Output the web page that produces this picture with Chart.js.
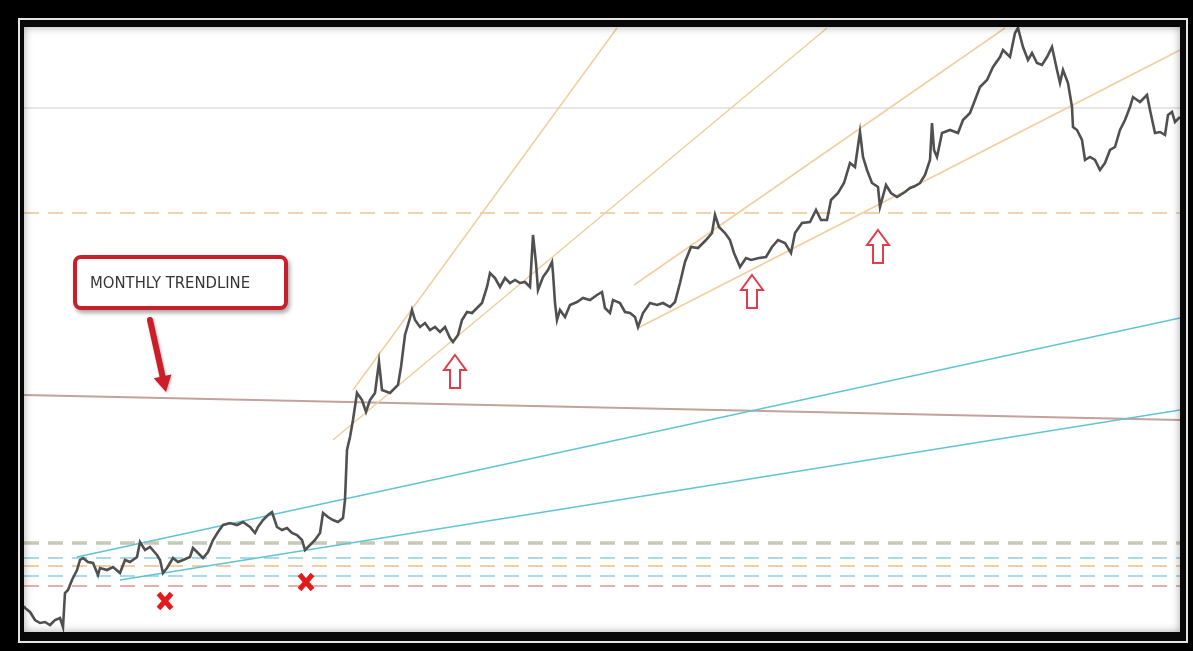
<!DOCTYPE html>
<html>
<head>
<meta charset="utf-8">
<script src="https://cdn.jsdelivr.net/npm/chart.js@4.4.0/dist/chart.umd.min.js"></script>
<style>
    html, body { margin: 0; padding: 0; background: #000; width: 1193px; height: 651px; overflow: hidden; }
    #frame { position: absolute; left: 18px; top: 18px; width: 1170px; height: 625px; box-sizing: border-box; border: 2px solid #e4e4e4; background: #080808; }
    #plot { position: absolute; left: 24px; top: 27px; width: 1156px; height: 605px; background: #fff; }
    #plot canvas { position: absolute; left: 0; top: 0; }
    #shade { position: absolute; left: 0; top: 0; right: 0; bottom: 0; box-shadow: inset 0 0 9px rgba(0, 0, 0, 0.35); pointer-events: none; }
    #callout {
        position: absolute; left: 73px; top: 255px; width: 215px; height: 55px; box-sizing: border-box;
        border: 4px solid #c81f2a; border-radius: 8px; background: #fff;
        box-shadow: 2px 3px 4px rgba(0, 0, 0, 0.35);
        font-family: "Liberation Sans Narrow", "DejaVu Sans Condensed", "Liberation Sans", sans-serif;
        font-size: 16.5px; color: #363636; line-height: 47px; padding-left: 13px; white-space: nowrap;
    }
</style>
</head>
<body>
<div id="frame"></div>
<div id="plot">
    <canvas id="priceChart" width="1156" height="605"></canvas>
    <div id="shade"></div>
</div>
<div id="callout">MONTHLY TRENDLINE</div>

<script>
// price path (bar index, price level)
const bars = [
    0, 1, 6, 11, 16, 21, 26, 31, 36, 39,
    41, 44, 48, 53, 56, 59, 64, 69, 74, 76,
    83, 89, 96, 101, 106, 113, 116, 121, 126, 133,
    136, 139, 143, 146, 149, 154, 159, 166, 169, 174,
    179, 184, 189, 194, 199, 206, 213, 219, 226, 231,
    234, 239, 244, 248, 253, 258, 263, 268, 273, 278,
    281, 286, 291, 296, 299, 304, 309, 314, 319, 321,
    323, 326, 329, 333, 338, 342, 346, 351, 355, 358,
    366, 374, 377, 381, 386, 388, 391, 396, 401, 406,
    411, 416, 421, 426, 429, 434, 438, 443, 448, 453,
    458, 463, 466, 471, 476, 481, 486, 491, 496, 501,
    506, 509, 512, 514, 519, 524, 528, 529, 531, 533,
    536, 541, 546, 553, 559, 566, 573, 578, 581, 586,
    589, 596, 601, 606, 611, 614, 619, 626, 633, 639,
    646, 651, 656, 661, 667, 674, 682, 688, 691, 695,
    701, 706, 710, 716, 722, 727, 735, 742, 748, 754,
    761, 767, 771, 778, 786, 792, 797, 803, 807, 814,
    820, 826, 831, 836, 839, 843, 848, 854, 856, 862,
    867, 873, 881, 886, 891, 896, 901, 906, 908, 910,
    913, 918, 926, 934, 939, 946, 951, 956, 963, 969,
    976, 979, 986, 991, 994, 999, 1004, 1008, 1013, 1018,
    1023, 1028, 1033, 1036, 1039, 1044, 1048, 1049, 1053, 1058,
    1061, 1066, 1071, 1076, 1081, 1086, 1091, 1096, 1101, 1106,
    1109, 1116, 1123, 1126, 1131, 1136, 1141, 1144, 1148, 1151,
    1156
];
const closes = [
    26, 24, 20, 12, 9, 10, 7, 12, 14, 5,
    39, 42, 52, 62, 72, 74, 70, 69, 57, 64,
    62, 65, 59, 72, 70, 75, 90, 82, 85, 77,
    72, 59, 64, 69, 74, 70, 72, 75, 84, 79,
    74, 80, 92, 100, 107, 109, 107, 110, 105, 99,
    105, 112, 117, 120, 105, 102, 104, 99, 97, 92,
    82, 87, 92, 99, 119, 115, 112, 110, 114, 132,
    182, 195, 212, 239, 232, 220, 232, 239, 270, 242,
    239, 247, 265, 297, 314, 322, 312, 305, 309, 302,
    305, 300, 305, 294, 290, 297, 312, 320, 319, 324,
    329, 345, 359, 354, 345, 354, 349, 352, 349, 350,
    345, 397, 369, 342, 355, 362, 370, 359, 329, 312,
    322, 315, 327, 330, 334, 332, 337, 340, 324, 319,
    332, 329, 320, 319, 315, 305, 319, 329, 327, 329,
    325, 330, 349, 370, 385, 384, 392, 399, 417, 405,
    399, 392, 379, 365, 374, 372, 374, 375, 385, 392,
    389, 379, 399, 409, 410, 422, 412, 412, 432, 439,
    449, 469, 465, 500, 475, 462, 449, 445, 425, 447,
    439, 435, 440, 444, 446, 449, 457, 472, 509, 482,
    475, 499, 502, 499, 512, 519, 532, 545, 552, 565,
    575, 582, 575, 599, 604, 585, 572, 579, 569, 567,
    575, 585, 562, 549, 562, 549, 525, 505, 502, 492,
    472, 475, 472, 462, 469, 482, 485, 502, 512, 525,
    535, 530, 537, 522, 499, 500, 497, 517, 520, 510,
    515
];

// trendline anchors: [bar1, price1, bar2, price2]
const fanLines = [[329, 242, 593, 604], [309, 192, 803, 604], [610, 347, 981, 604], [614, 304, 1156, 582]];
const channelLines = [[53, 75, 1156, 314], [96, 52, 1156, 222]];
const monthlyTrend = [0, 237, 1156, 212];
const resistance = 524;
const midLevel = 419;
const supportLevels = [89, 74, 66, 56, 46];
const supportColors = ['#c5c9b6', '#a9dbe6', '#f2cca6', '#a9dbe6', '#e6b0aa'];

// marks on the chart
const bounceArrows = [[431, 277], [728, 357], [854, 402]];
const failMarks = [[141, 31], [282, 50]];
const calloutArrow = [126, 312, 142, 240];

const lastBar = 1156;

function segment(l, color, width) {
    return {
        data: [{ x: l[0], y: l[1] }, { x: l[2], y: l[3] }],
        borderColor: color, borderWidth: width, pointRadius: 0, tension: 0
    };
}

function level(v, color, width, dash) {
    return {
        data: [{ x: 0, y: v }, { x: lastBar, y: v }],
        borderColor: color, borderWidth: width, borderDash: dash || [], pointRadius: 0
    };
}

const datasets = [];
datasets.push({
    data: bars.map((b, i) => ({ x: b, y: closes[i] })),
    borderColor: '#505050', borderWidth: 2.6, pointRadius: 0, tension: 0
});
fanLines.forEach(l => datasets.push(segment(l, '#f1cfa0', 1.6)));
channelLines.forEach(l => datasets.push(segment(l, '#62c3d3', 1.6)));
datasets.push(segment(monthlyTrend, '#c2a39c', 2));
datasets.push(level(resistance, '#cfcfcf', 1));
datasets.push(level(midLevel, '#efd3ae', 2, [15, 9]));
supportLevels.forEach((v, i) => datasets.push(level(v, supportColors[i], i === 0 ? 3.5 : 2, [15, 9])));

const marksPlugin = {
    id: 'marks',
    afterDatasetsDraw(chart) {
        const c = chart.ctx;
        const xs = chart.scales.x, ys = chart.scales.y;

        // hollow up arrows
        bounceArrows.forEach(a => {
            const x = xs.getPixelForValue(a[0]), y = ys.getPixelForValue(a[1]);
            c.save();
            c.beginPath();
            c.moveTo(x, y);
            c.lineTo(x + 11, y + 15);
            c.lineTo(x + 5, y + 15);
            c.lineTo(x + 5, y + 33);
            c.lineTo(x - 5, y + 33);
            c.lineTo(x - 5, y + 15);
            c.lineTo(x - 11, y + 15);
            c.closePath();
            c.fillStyle = '#fff';
            c.fill();
            c.strokeStyle = '#de3f4c';
            c.lineWidth = 2;
            c.stroke();
            c.restore();
        });

        // red crosses
        failMarks.forEach(m => {
            const x = xs.getPixelForValue(m[0]), y = ys.getPixelForValue(m[1]);
            c.save();
            c.strokeStyle = '#e31b1b';
            c.lineWidth = 5;
            c.beginPath();
            c.moveTo(x - 6.5, y - 7.5); c.lineTo(x + 6.5, y + 7.5);
            c.moveTo(x + 6.5, y - 7.5); c.lineTo(x - 6.5, y + 7.5);
            c.stroke();
            c.restore();
        });

        // callout arrow
        const x1 = xs.getPixelForValue(calloutArrow[0]), y1 = ys.getPixelForValue(calloutArrow[1]);
        const x2 = xs.getPixelForValue(calloutArrow[2]), y2 = ys.getPixelForValue(calloutArrow[3]);
        const ang = Math.atan2(y2 - y1, x2 - x1);
        const hx = x2 - Math.cos(ang) * 16, hy = y2 - Math.sin(ang) * 16;
        c.save();
        c.shadowColor = 'rgba(0,0,0,0.3)';
        c.shadowBlur = 3;
        c.shadowOffsetX = 1;
        c.shadowOffsetY = 1;
        c.strokeStyle = '#cc1d28';
        c.fillStyle = '#cc1d28';
        c.lineWidth = 6;
        c.lineCap = 'round';
        c.beginPath();
        c.moveTo(x1, y1);
        c.lineTo(hx, hy);
        c.stroke();
        c.beginPath();
        c.moveTo(x2, y2);
        c.lineTo(hx + Math.cos(ang + Math.PI / 2) * 9, hy + Math.sin(ang + Math.PI / 2) * 9);
        c.lineTo(hx - Math.cos(ang + Math.PI / 2) * 9, hy - Math.sin(ang + Math.PI / 2) * 9);
        c.closePath();
        c.fill();
        c.restore();
    }
};

new Chart(document.getElementById('priceChart').getContext('2d'), {
    type: 'line',
    data: { datasets: datasets },
    options: {
        responsive: false,
        animation: false,
        devicePixelRatio: 1,
        layout: { padding: 0 },
        plugins: { legend: { display: false }, tooltip: { enabled: false } },
        scales: {
            x: { type: 'linear', min: 0, max: lastBar, display: false },
            y: { type: 'linear', min: 0, max: 605, display: false }
        }
    },
    plugins: [marksPlugin]
});
</script>
</body>
</html>
